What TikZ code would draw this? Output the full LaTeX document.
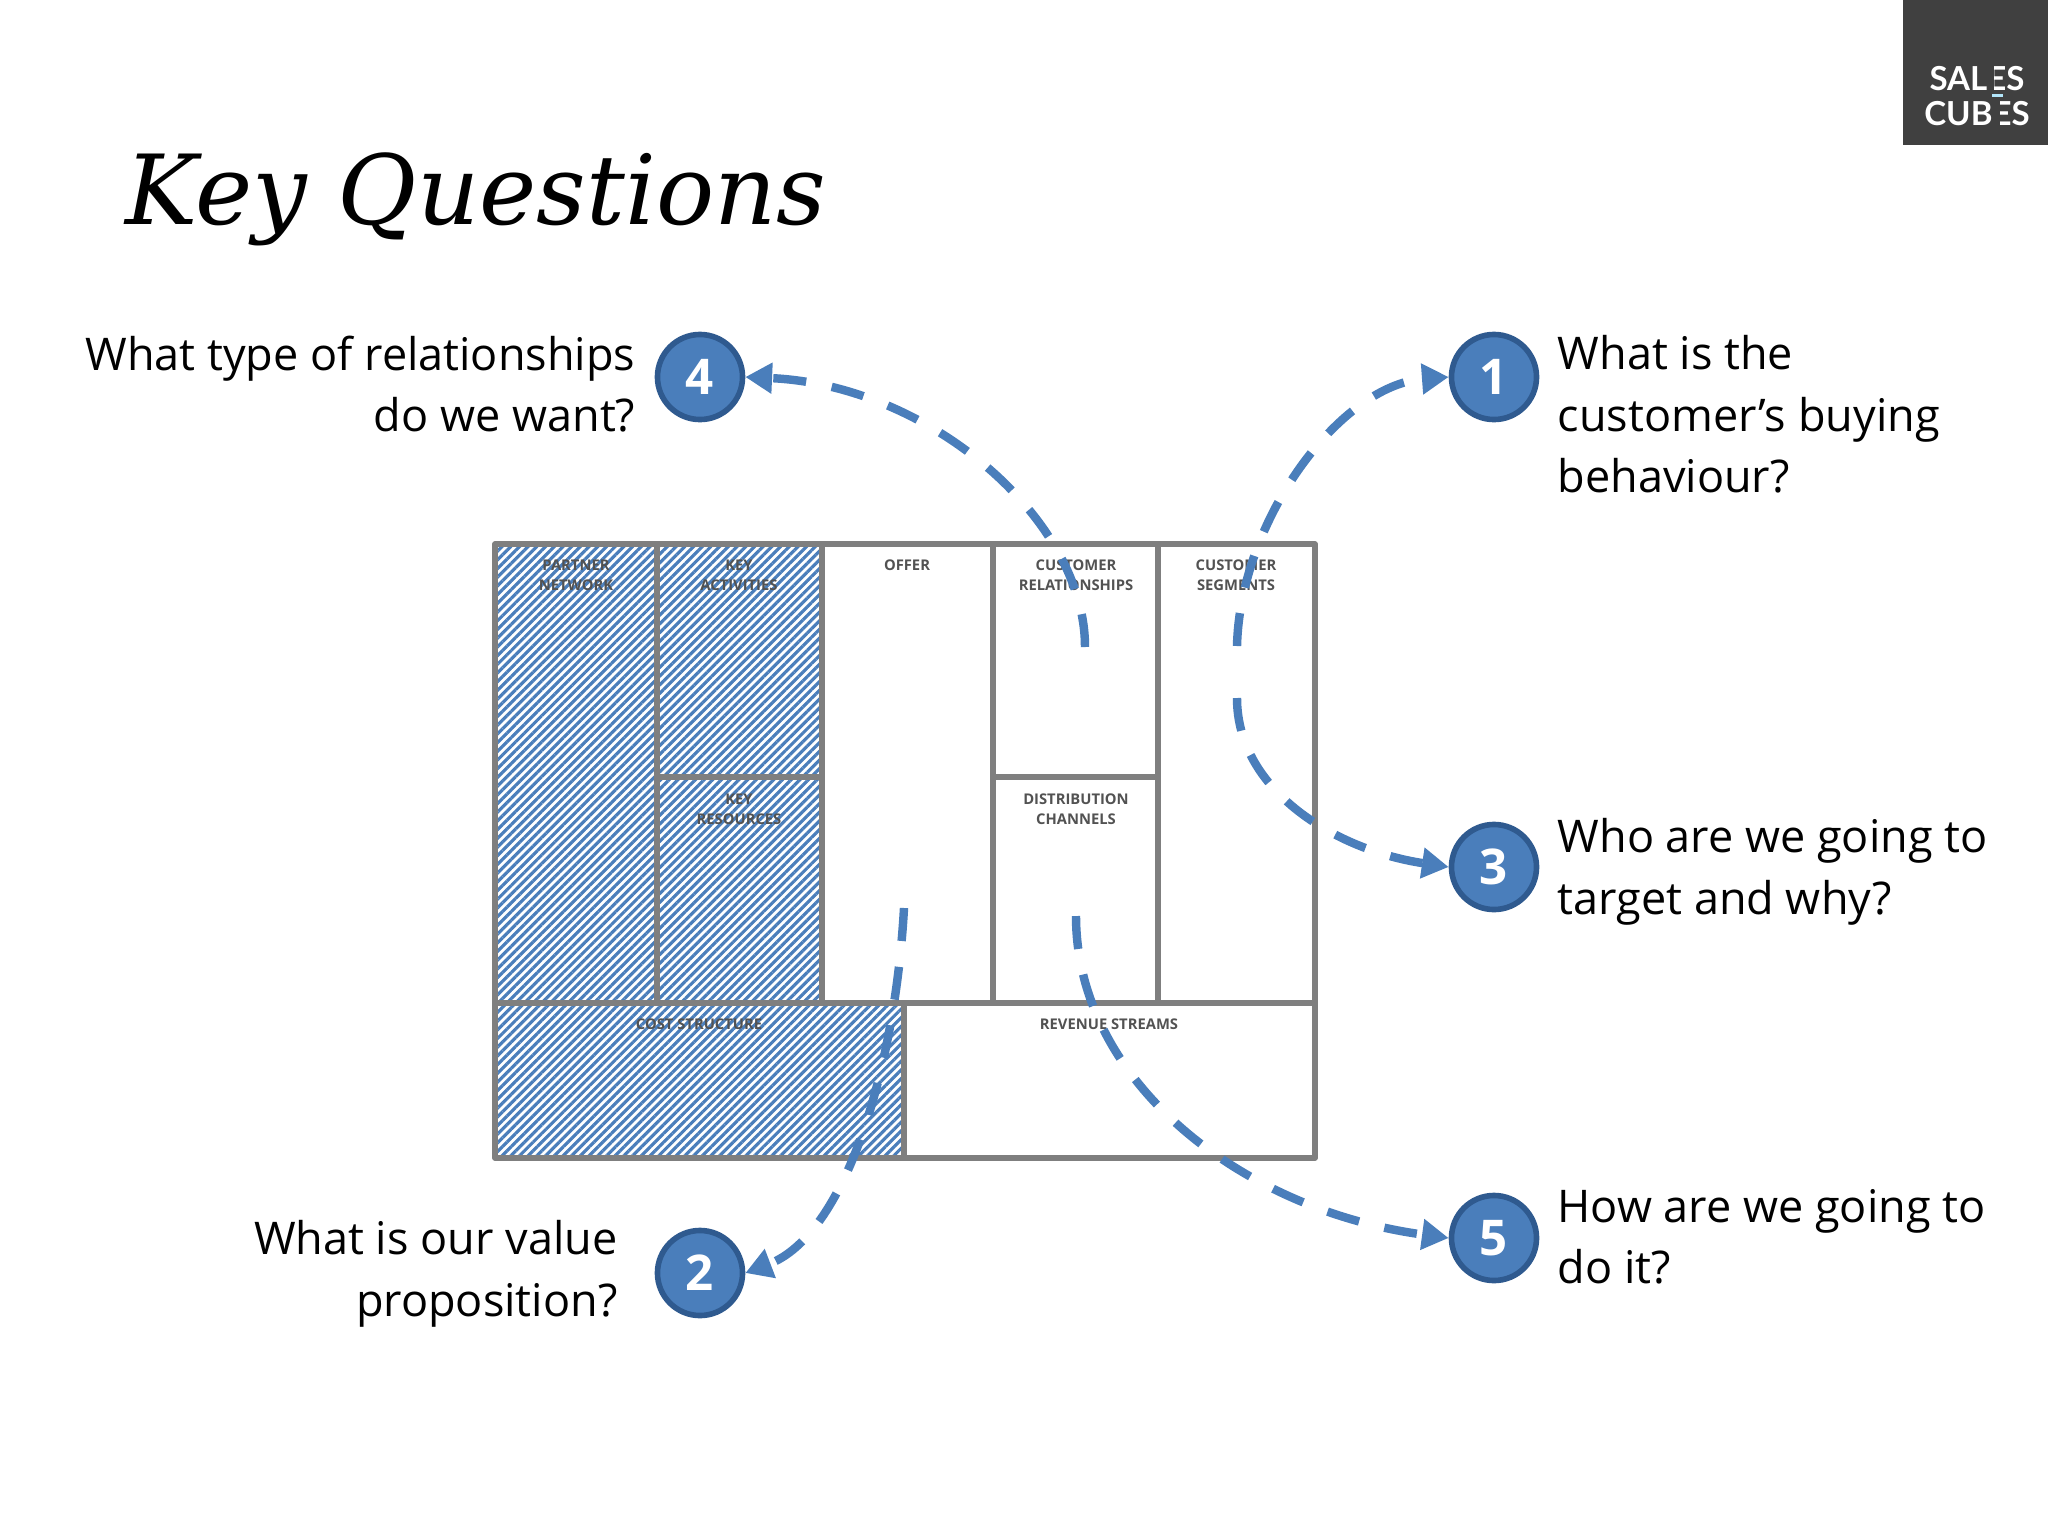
\documentclass[tikz,border=0pt]{standalone}
\usepackage{fontspec}
\setmainfont{Open Sans}
\newfontfamily\titlefont{DejaVu Serif}
\newfontfamily\logofont{Lato}
\usetikzlibrary{arrows.meta,patterns.meta}
\definecolor{qblue}{HTML}{4A7EBB}
\definecolor{qdark}{HTML}{2F5A8F}
\definecolor{cellgray}{HTML}{7F7F7F}
\definecolor{logogray}{HTML}{404040}
\newcommand{\barE}{E\llap{\textcolor{logogray}{\rule[-0.1pt]{1.6pt}{8pt}}\hspace{3.4pt}}}
\tikzset{
	qtext/.style={font=\fontsize{12.8}{17.4}\selectfont,inner sep=0pt},
	numcircle/.style={circle,draw=qdark,fill=qblue,line width=1.6pt,minimum size=8.5mm,inner sep=0pt,text=white,font=\bfseries\fontsize{14}{14}\selectfont},
	celllabel/.style={font=\fontsize{4.2}{5.8}\selectfont\bfseries,text=black!68,align=center,anchor=north,inner sep=0pt},
	cell/.style={draw=cellgray,line width=1.6pt,line join=round},
	hatched/.style={pattern={Lines[angle=45,distance=1.75pt,line width=.9pt]},pattern color=qblue},
	question/.style={draw=qblue,line width=2.4pt,dash pattern=on 9.4pt off 7.4pt,-{Triangle[length=7.6pt,width=8.4pt]}}
}
\begin{document}
\begin{tikzpicture}[x=0.01cm,y=-0.01cm]
\useasboundingbox (0,0) rectangle (2048,1536);
% Logo
\fill[logogray] (1903,0) rectangle (2048,145);
\fill[cyan!30!white] (1992,94) rectangle (2003,97);
\node[text=white,font=\logofont\bfseries\fontsize{9.4}{10}\selectfont,align=center,inner sep=0pt] (logo) at (1977,94) {SAL\barE S\\CUB\barE S};
% Title
\node[anchor=west,inner sep=0pt,font=\titlefont\itshape\fontsize{27.5}{30}\selectfont] (title) at (125,199) {Key Questions};
% Canvas
\draw[cell,hatched] (495,544) rectangle (657,1003);
\draw[cell,hatched] (657,544) rectangle (822,777);
\draw[cell,hatched] (657,777) rectangle (822,1003);
\draw[cell] (822,544) rectangle (993,1003);
\draw[cell] (993,544) rectangle (1158,777);
\draw[cell] (993,777) rectangle (1158,1003);
\draw[cell] (1158,544) rectangle (1315,1003);
\draw[cell,hatched] (495,1003) rectangle (904,1158);
\draw[cell] (904,1003) rectangle (1315,1158);
\node[celllabel] (partner) at (576,559) {PARTNER\\NETWORK};
\node[celllabel] (activities) at (739,559) {KEY\\ACTIVITIES};
\node[celllabel] (resources) at (739,793) {KEY\\RESOURCES};
\node[celllabel] (offer) at (907,559) {OFFER};
\node[celllabel] (relations) at (1076,559) {CUSTOMER\\RELATIONSHIPS};
\node[celllabel] (channels) at (1076,793) {DISTRIBUTION\\CHANNELS};
\node[celllabel] (segments) at (1236,559) {CUSTOMER\\SEGMENTS};
\node[celllabel] (cost) at (699,1018) {COST STRUCTURE};
\node[celllabel] (revenue) at (1109,1018) {REVENUE STREAMS};
% Numbers
\node[numcircle] (q1) at (1494,377) {1};
\node[numcircle] (q2) at (700,1273) {2};
\node[numcircle] (q3) at (1494,867) {3};
\node[numcircle] (q4) at (700,377) {4};
\node[numcircle] (q5) at (1494,1238) {5};
% Questions
\node[qtext,anchor=north west,align=left] (t1) at (1557,335) {What is the\\customer’s buying\\behaviour?};
\node[qtext,anchor=north east,align=right] (t2) at (618,1220) {What is our value\\proposition?};
\node[qtext,anchor=north west,align=left] (t3) at (1557,818) {Who are we going to\\target and why?};
\node[qtext,anchor=north east,align=right] (t4) at (636,335) {What type of relationships\\do we want?};
\node[qtext,anchor=north west,align=left] (t5) at (1557,1189) {How are we going to\\do it?};
% Arrows
\coordinate (s1) at (1237,646);
\coordinate (s2) at (904,908);
\coordinate (s3) at (1237,698);
\coordinate (s4) at (1085,647);
\coordinate (s5) at (1076,916);
\draw[question] (s1) .. controls (1240,520) and (1340,385) .. (q1.west);
\draw[question] (s2) .. controls (895,1070) and (845,1235) .. (q2.east);
\draw[question] (s3) .. controls (1237,790) and (1335,850) .. (q3.west);
\draw[question] (s4) .. controls (1085,520) and (930,385) .. (q4.east);
\draw[question] (s5) .. controls (1076,1080) and (1240,1210) .. (q5.west);
\end{tikzpicture}
\end{document}
